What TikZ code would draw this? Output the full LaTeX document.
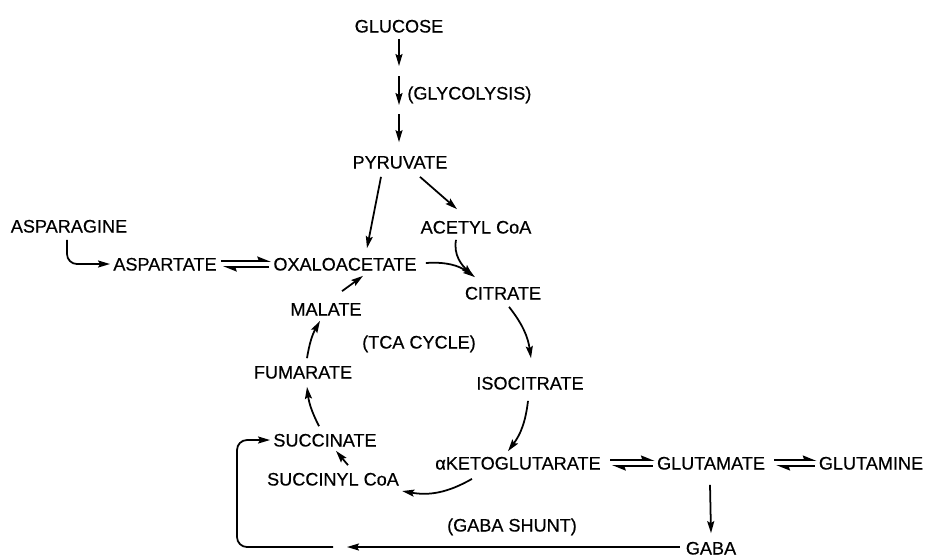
\documentclass[tikz,border=0pt]{standalone}
\usepackage{fontspec}
\setmainfont{Liberation Sans}
\newfontfamily\letterfont[FakeBold=0.5]{Liberation Sans}
\usetikzlibrary{calc,arrows.meta}
\tikzset{
  met/.style={inner sep=0,text height=7.4pt,text depth=0pt,font=\letterfont\fontsize{10.3}{12}\selectfont},
  lab/.style={met},
  arr/.style={-{Stealth[length=2.4mm,width=1.4mm,inset=0.4mm]},line width=1pt},
  harp/.style={-{Stealth[harpoon,length=2.3mm,width=1.8mm,inset=0.3mm]},line width=1pt},
}
\begin{document}
\begin{tikzpicture}[x=0.02cm,y=-0.02cm]
  \useasboundingbox (0,0) rectangle (925,556);
  % metabolites, placed at the picture's pixel positions
  \node[met] (glc)  at (399,26)  {GLUCOSE};
  \node[met] (pyr)  at (400,162) {PYRUVATE};
  \node[met] (acoa) at (476,227) {ACETYL CoA};
  \node[met] (asn)  at (69,226)  {ASPARAGINE};
  \node[met] (asp)  at (165,264) {ASPARTATE};
  \node[met] (oaa)  at (345,264) {OXALOACETATE};
  \node[met] (cit)  at (503,293) {CITRATE};
  \node[met] (mal)  at (326,309) {MALATE};
  \node[met] (fum)  at (303,372) {FUMARATE};
  \node[met] (iso)  at (530,383) {ISOCITRATE};
  \node[met] (suc)  at (325,440) {SUCCINATE};
  \node[met] (scoa) at (333,479) {SUCCINYL CoA};
  \node[met] (akg)  at (518,463) {αKETOGLUTARATE};
  \node[met] (glu)  at (711,463) {GLUTAMATE};
  \node[met] (gln)  at (871,463) {GLUTAMINE};
  \node[met] (gaba) at (711,548) {GABA};
  % pathway names
  \node[lab,anchor=west] (glyc) at (407,93) {(GLYCOLYSIS)};
  \node[lab] (tca)   at (419,342) {(TCA CYCLE)};
  \node[lab] (shunt) at (512,525) {(GABA SHUNT)};
  % glycolysis, drawn as three short steps
  \coordinate (g1) at (399,66); \coordinate (g2) at (399,76);
  \coordinate (g3) at (399,105); \coordinate (g4) at (399,114);
  \draw[arr] ($(glc.south)+(0,6)$) -- (g1);
  \draw[arr] (g2) -- (g3);
  \draw[arr] (g4) -- ($(pyr.north)+(-1,-13)$);
  \draw[arr] ($(pyr.south)+(-19,8)$) -- ($(oaa.north)+(22,-9)$);
  \draw[arr] ($(pyr.south)+(20,8)$) -- ($(acoa.north)+(-19,-11)$);
  \draw[arr,rounded corners=.2cm] ($(asn.south)+(-2,7)$) |- ($(asp.west)+(-3,0)$);
  % reversible steps
  \draw[harp] ($(asp.east)+(4,-3)$) -- ($(oaa.west)+(-2,-3)$);
  \draw[harp] ($(oaa.west)+(-4,3)$) -- ($(asp.east)+(6,3)$);
  \draw[harp] ($(akg.east)+(9,-3)$) -- ($(glu.west)+(-2,-3)$);
  \draw[harp] ($(glu.west)+(-4,3)$) -- ($(akg.east)+(11,3)$);
  \draw[harp] ($(glu.east)+(9,-3)$) -- ($(gln.west)+(-2,-3)$);
  \draw[harp] ($(gln.west)+(-4,3)$) -- ($(glu.east)+(11,3)$);
  % TCA cycle
  \draw[arr] ($(oaa.east)+(9,-1)$) to[bend left=20] ($(cit.north)+(-28,-9)$);
  \draw[arr] ($(acoa.south)+(-20,6)$) to[out=-100,in=135] ($(cit.north)+(-30,-10)$);
  \draw[arr] ($(cit.south)+(6,7)$) to[bend left=15] ($(iso.north)+(1,-18)$);
  \draw[arr] ($(iso.south)+(-2,11)$) to[bend left=15] ($(akg.north)+(-10,-5)$);
  \draw[arr] ($(akg.south)+(-46,9)$) to[bend left=20] ($(scoa.east)+(3,12)$);
  \draw[arr] ($(scoa.north)+(15,-7)$) -- ($(suc.south)+(11,4)$);
  \draw[arr] ($(suc.north)+(-6,-7)$) to[bend left=10] ($(fum.south)+(4,8)$);
  \draw[arr] ($(fum.north)+(4,-7)$) to[bend left=10] ($(mal.south)+(-6,5)$);
  \draw[arr] ($(mal.north)+(16,-11)$) -- ($(oaa.south)+(18,5)$);
  % GABA shunt back to succinate
  \draw[arr] ($(glu.south)+(-1,15)$) -- ($(gaba.north)+(0,-8)$);
  \coordinate (mid) at (347,547);
  \coordinate (loop) at (237,500);
  \draw[arr] ($(gaba.west)+(-6,-1)$) -- (mid);
  \draw[arr,rounded corners=.2cm] ($(mid)+(-14,0)$) -| (loop) |- ($(suc.west)+(-3,0)$);
\end{tikzpicture}
\end{document}
